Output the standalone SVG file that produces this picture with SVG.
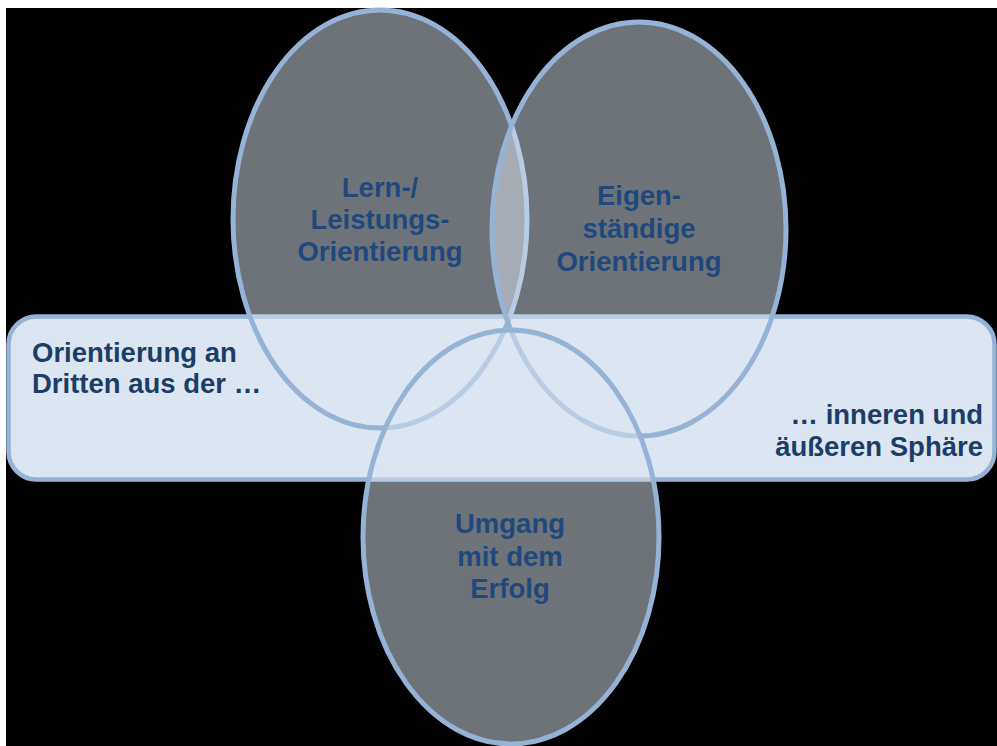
<svg xmlns="http://www.w3.org/2000/svg" width="997" height="746" viewBox="0 0 997 746">
  <style>
    .band { fill: #dce6f2; stroke: #95b3d7; stroke-width: 4.5; }
    .oval { fill: #dce6f2; fill-opacity: 0.5; stroke: #95b3d7; stroke-width: 5; }
    text { font-family: "Liberation Sans", Arial, sans-serif; font-weight: bold; font-size: 27.5px; }
    .in-oval { fill: #1f497d; text-anchor: middle; }
    .in-band { fill: #1c3d66; }
  </style>

  <!-- page and dark backdrop -->
  <rect x="0" y="0" width="997" height="746" fill="#ffffff"/>
  <rect x="6" y="8" width="991" height="738" fill="#000000"/>

  <!-- horizontal band behind the three ovals -->
  <g id="band">
    <rect class="band" x="8.5" y="316.5" width="986" height="163" rx="28" ry="28"/>
  </g>

  <!-- ovals, painted in stacking order -->
  <g id="lern-leistung">
    <ellipse class="oval" cx="380" cy="219" rx="147" ry="209"/>
  </g>
  <g id="eigenstaendig">
    <ellipse class="oval" cx="639" cy="229" rx="147" ry="207"/>
  </g>
  <g id="umgang-erfolg">
    <ellipse class="oval" cx="511" cy="537" rx="148" ry="207"/>
  </g>

  <!-- labels -->
  <g id="label-lern">
    <text class="in-oval" x="380" y="196.5">Lern-/</text>
    <text class="in-oval" x="380" y="228.5">Leistungs-</text>
    <text class="in-oval" x="380" y="260.5">Orientierung</text>
  </g>
  <g id="label-eigen">
    <text class="in-oval" x="639" y="205">Eigen-</text>
    <text class="in-oval" x="639" y="238">ständige</text>
    <text class="in-oval" x="639" y="271">Orientierung</text>
  </g>
  <g id="label-umgang">
    <text class="in-oval" x="510" y="533">Umgang</text>
    <text class="in-oval" x="510" y="565.5">mit dem</text>
    <text class="in-oval" x="510" y="598">Erfolg</text>
  </g>
  <g id="label-band-left">
    <text class="in-band" x="32" y="361.5">Orientierung an</text>
    <text class="in-band" x="32" y="392.5">Dritten aus der …</text>
  </g>
  <g id="label-band-right">
    <text class="in-band" x="983" y="424" text-anchor="end">… inneren und</text>
    <text class="in-band" x="983" y="456" text-anchor="end">äußeren Sphäre</text>
  </g>

  <!-- no connectors in this figure -->
  <g id="connectors"/>
</svg>
